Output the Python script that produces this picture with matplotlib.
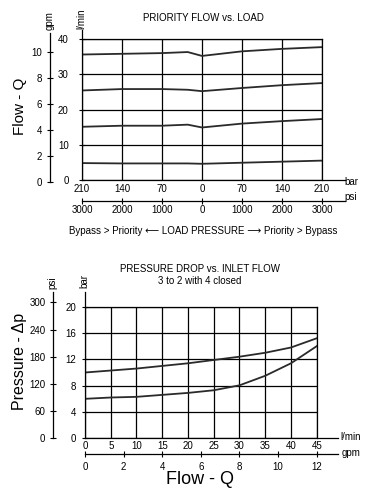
import matplotlib
matplotlib.use("Agg")
import matplotlib.pyplot as plt

plt.rcParams['font.family'] = ['Liberation Sans', 'DejaVu Sans']

# ---------------- data ----------------
# Top chart: priority flow vs load pressure (signed bar: negative = Bypass > Priority side)
load_bar = [-210, -140, -70, -25, 0, 70, 140, 210]
bar_tick_pos = [-210, -140, -70, 0, 70, 140, 210]
bar_tick_lbl = ['210', '140', '70', '0', '70', '140', '210']
psi_tick_lbl = ['3000', '2000', '1000', '0', '1000', '2000', '3000']
flow_a = [35.6, 35.8, 36.0, 36.3, 35.2, 36.5, 37.2, 37.7]
flow_b = [25.4, 25.8, 25.8, 25.6, 25.2, 26.1, 26.9, 27.5]
flow_c = [15.1, 15.4, 15.4, 15.7, 14.9, 16.0, 16.7, 17.3]
flow_d = [4.8, 4.7, 4.7, 4.7, 4.6, 4.9, 5.2, 5.5]
lpm_ticks_top = [0, 10, 20, 30, 40]
gpm_ticks_top = [0, 2, 4, 6, 8, 10]

# Bottom chart: pressure drop vs inlet flow
inlet_lpm = [0, 5, 10, 15, 20, 25, 30, 35, 40, 45]
dp_upper = [10.0, 10.3, 10.6, 11.0, 11.4, 11.9, 12.4, 13.0, 13.8, 15.2]
dp_lower = [6.0, 6.2, 6.3, 6.6, 6.9, 7.3, 8.05, 9.5, 11.4, 14.0]
lpm_ticks_bot = [0, 5, 10, 15, 20, 25, 30, 35, 40, 45]
gpm_ticks_bot = [0, 2, 4, 6, 8, 10, 12]
bar_ticks_bot = [0, 4, 8, 12, 16, 20]
psi_ticks_bot = [0, 60, 120, 180, 240, 300]

W, H = 381, 495
fig = plt.figure(figsize=(W / 100, H / 100), dpi=100)

def rect(x0, y0, x1, y1):
    return [x0 / W, 1 - y1 / H, (x1 - x0) / W, (y1 - y0) / H]

def ftxt(x, y, s, **kw):
    fig.text(x / W, 1 - y / H, s, **kw)

TFS = 7
LW_GRID = 0.9
CURVE = '#2a2a2a'

def hide_all(ax):
    for sp in ax.spines.values():
        sp.set_visible(False)
    ax.patch.set_visible(False)

def ystrip(x, ytop, ybot, ylim, ticks, labels=None, pad=2):
    a = fig.add_axes([x / W, 1 - ybot / H, 0.0001, (ybot - ytop) / H])
    hide_all(a)
    a.spines['left'].set_visible(True)
    a.spines['left'].set_linewidth(0.9)
    a.set_ylim(*ylim)
    a.set_yticks(ticks)
    if labels is not None:
        a.set_yticklabels(labels)
    a.set_xticks([])
    a.tick_params(axis='y', direction='inout', length=5, width=0.8, labelsize=TFS, pad=pad)
    return a

def xstrip(y, xleft, xright, xlim, ticks, labels=None, length=0, pad=2):
    a = fig.add_axes([xleft / W, 1 - y / H, (xright - xleft) / W, 0.0001])
    hide_all(a)
    a.spines['bottom'].set_visible(True)
    a.spines['bottom'].set_linewidth(0.9)
    a.set_xlim(*xlim)
    a.set_xticks(ticks)
    if labels is not None:
        a.set_xticklabels(labels)
    a.set_yticks([])
    a.tick_params(axis='x', direction='inout', length=length, width=0.8, labelsize=TFS, pad=pad)
    return a

def main_axes(r, xlim, ylim, xt, yt):
    ax = fig.add_axes(r)
    ax.set_xlim(*xlim)
    ax.set_ylim(*ylim)
    ax.set_xticks(xt)
    ax.set_yticks(yt)
    ax.tick_params(length=0, labelbottom=False, labelleft=False)
    ax.grid(True, color='black', linewidth=LW_GRID)
    for s in ['left', 'bottom']:
        ax.spines[s].set_visible(False)
    for s in ['top', 'right']:
        ax.spines[s].set_linewidth(LW_GRID)
    return ax

# ---------------- top chart ----------------
ax1 = main_axes(rect(82, 39, 322, 180), (-210, 210), (0, 40), bar_tick_pos, lpm_ticks_top)
for f in (flow_a, flow_b, flow_c, flow_d):
    ax1.plot(load_bar, f, color=CURVE, linewidth=1.3)

ext = 210 + (345 - 322) * 420 / 240
ystrip(82, 30, 180, (0, 40 * 150 / 141), lpm_ticks_top, pad=7)
ystrip(49.5, 33, 182, (0, 149 / 12.97), gpm_ticks_top, pad=3)
xstrip(180, 82, 345, (-210, ext), bar_tick_pos, bar_tick_lbl, length=0, pad=3)
xstrip(200.5, 82, 345, (-210, ext), bar_tick_pos, psi_tick_lbl, length=5, pad=1)

ftxt(203, 18, 'PRIORITY FLOW vs. LOAD', fontsize=7, ha='center', va='center')
ftxt(351, 182, 'bar', fontsize=7, ha='center', va='center')
ftxt(351, 197, 'psi', fontsize=7, ha='center', va='center')
ftxt(50, 21, 'gpm', fontsize=7, ha='center', va='center', rotation=90)
ftxt(81, 19, 'l/min', fontsize=7, ha='center', va='center', rotation=90)
ftxt(20, 106, 'Flow - Q', fontsize=11, ha='center', va='center', rotation=90)
ftxt(203, 231, 'Bypass > Priority \u27f5 LOAD PRESSURE \u27f6 Priority > Bypass',
     fontsize=7, ha='center', va='center')

# ---------------- bottom chart ----------------
ax2 = main_axes(rect(85, 306.7, 316.7, 438.3), (0, 45), (0, 20), lpm_ticks_bot, bar_ticks_bot)
ax2.plot(inlet_lpm, dp_upper, color=CURVE, linewidth=1.3)
ax2.plot(inlet_lpm, dp_lower, color=CURVE, linewidth=1.3)

ystrip(85, 291.7, 438.3, (0, 20 * 146.6 / 131.6), bar_ticks_bot, pad=4)
ystrip(53, 292, 438.3, (0, 300 * 146.3 / 136), psi_ticks_bot, pad=3)
xstrip(438.3, 85, 338, (0, 45 * 253 / 231.7), lpm_ticks_bot, length=0, pad=2)
xstrip(454.3, 85, 338, (0, 12 * 253 / 231.7), gpm_ticks_bot, length=5, pad=3)

ftxt(200, 268.5, 'PRESSURE DROP vs. INLET FLOW', fontsize=7, ha='center', va='center')
ftxt(200, 281.5, '3 to 2 with 4 closed', fontsize=7, ha='center', va='center')
ftxt(351, 437, 'l/min', fontsize=7, ha='center', va='center')
ftxt(351, 453, 'gpm', fontsize=7, ha='center', va='center')
ftxt(52, 283, 'psi', fontsize=7, ha='center', va='center', rotation=90)
ftxt(84, 281, 'bar', fontsize=7, ha='center', va='center', rotation=90)
ftxt(20, 361, 'Pressure - \u0394p', fontsize=11.5, ha='center', va='center', rotation=90)
ftxt(200, 479, 'Flow - Q', fontsize=13, ha='center', va='center')

fig.savefig('out.png', dpi=100)
